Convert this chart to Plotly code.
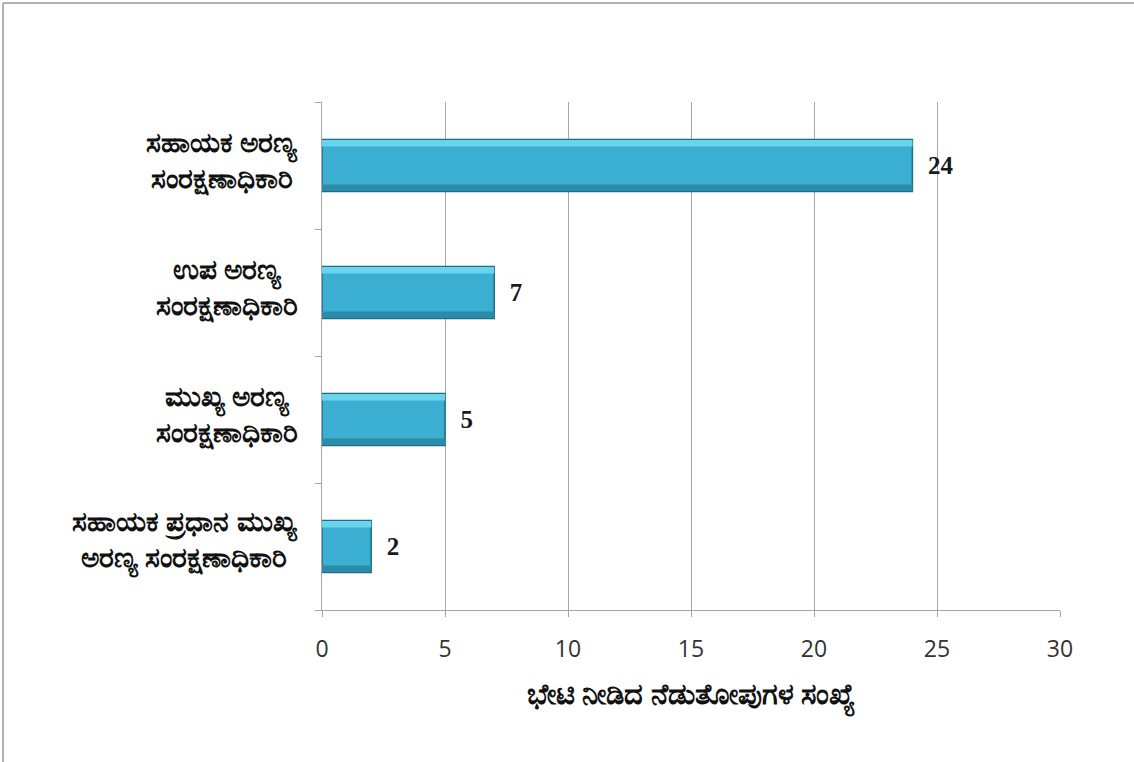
import plotly.graph_objects as go

categories = [
    "ಸಹಾಯಕ ಅರಣ್ಯ<br>ಸಂರಕ್ಷಣಾಧಿಕಾರಿ",
    "ಉಪ ಅರಣ್ಯ<br>ಸಂರಕ್ಷಣಾಧಿಕಾರಿ",
    "ಮುಖ್ಯ ಅರಣ್ಯ<br>ಸಂರಕ್ಷಣಾಧಿಕಾರಿ",
    "ಸಹಾಯಕ ಪ್ರಧಾನ ಮುಖ್ಯ<br>ಅರಣ್ಯ ಸಂರಕ್ಷಣಾಧಿಕಾರಿ",
]
values = [24, 7, 5, 2]
x_ticks = [0, 5, 10, 15, 20, 25, 30]
x_title = "ಭೇಟಿ ನೀಡಿದ ನೆಡುತೋಪುಗಳ ಸಂಖ್ಯೆ"

fig = go.Figure()
# main bar body
fig.add_trace(go.Bar(
    x=values, y=categories, orientation="h",
    marker=dict(color="#3aafd1", line=dict(color="#1d6e85", width=1.5)),
    width=0.41, offset=-0.205,
    text=values, texttemplate="  %{text}", textposition="outside",
    textfont=dict(family="Liberation Serif", size=25, color="#1a1a1a", weight="bold"),
    cliponaxis=False, hoverinfo="skip",
))
# bevel highlight (top) and shade (bottom)
fig.add_trace(go.Bar(
    x=values, y=categories, orientation="h",
    marker=dict(color="#6ad4ee", line=dict(width=0)),
    width=0.05, offset=0.15, hoverinfo="skip",
))
fig.add_trace(go.Bar(
    x=values, y=categories, orientation="h",
    marker=dict(color="#2b8caa", line=dict(width=0)),
    width=0.05, offset=-0.2, hoverinfo="skip",
))

annotations = [
    dict(x=-0.03, y=c, xref="paper", yref="y", text=c, showarrow=False,
         xanchor="right", yanchor="middle", align="center", yshift=7,
         font=dict(size=28, color="#111", weight="bold"))
    for c in categories
]

fig.update_layout(
    width=1134, height=762,
    margin=dict(l=322, r=74, t=102, b=152),
    plot_bgcolor="white", paper_bgcolor="white",
    showlegend=False, barmode="overlay",
    font=dict(family="Noto Sans, sans-serif", color="#222"),
    annotations=annotations,
    shapes=[
        dict(type="line", xref="paper", yref="paper", x0=-319/738, x1=1131/738, y0=1+99/508, y1=1+99/508,
             line=dict(color="#999", width=1.5)),
        dict(type="line", xref="paper", yref="paper", x0=-319/738, x1=-319/738, y0=1+99/508, y1=-152/508,
             line=dict(color="#999", width=1.5)),
    ],
)
fig.update_xaxes(
    range=[0, 30], tickvals=x_ticks, ticktext=[str(t) for t in x_ticks],
    showgrid=True, gridcolor="#a6a6a6", gridwidth=1.3,
    showline=True, linecolor="#a6a6a6", linewidth=1.3,
    ticks="outside", ticklen=6, tickcolor="#a6a6a6", ticklabelstandoff=12,
    tickfont=dict(family="Open Sans", size=23, color="#333"),
    title=dict(text=x_title, font=dict(size=29, color="#111", weight="bold"), standoff=20),
    zeroline=False,
)
fig.update_yaxes(
    categoryorder="array", categoryarray=categories[::-1],
    showline=True, linecolor="#a6a6a6", linewidth=1.3,
    ticks="outside", ticklen=6, tickcolor="#a6a6a6", tickson="boundaries",
    showticklabels=False, showgrid=False,
)

fig.write_html("out.html", post_script="document.body.style.margin='0';",
               config={"displayModeBar": False})
